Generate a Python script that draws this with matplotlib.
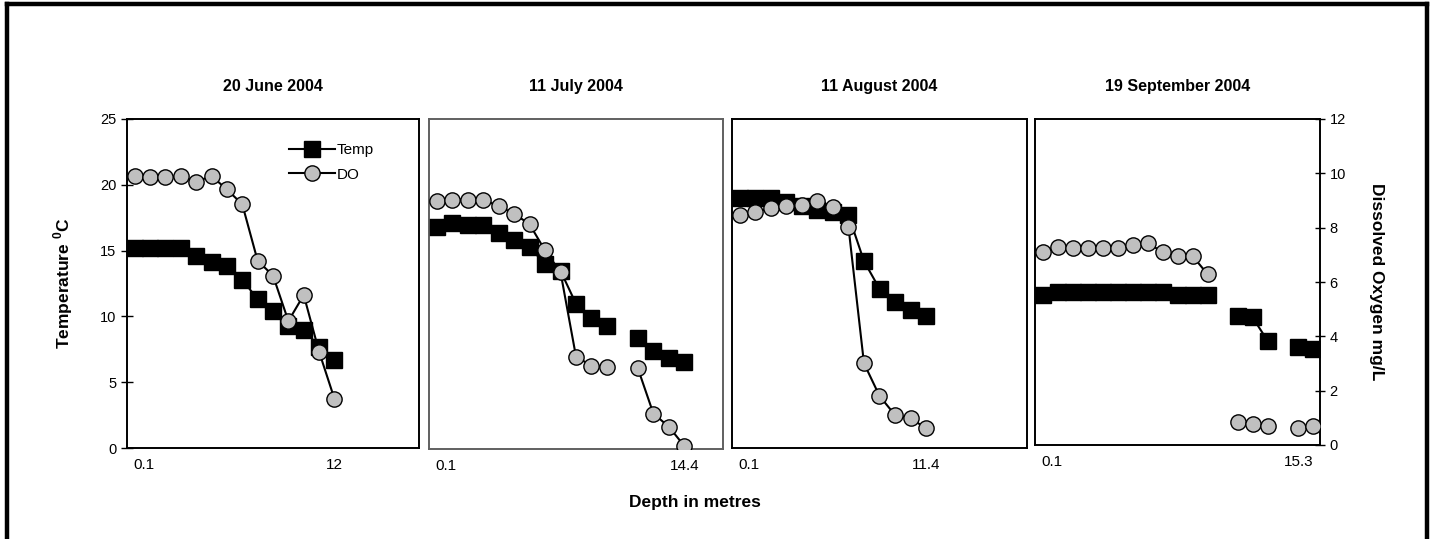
import numpy as np
import matplotlib
matplotlib.use("Agg")
import matplotlib.pyplot as plt
from matplotlib.lines import Line2D

plt.rcParams['font.family'] = ['Liberation Sans', 'DejaVu Sans']
plt.rcParams['mathtext.fontset'] = 'custom'
plt.rcParams['mathtext.bf'] = 'Liberation Sans:bold'
plt.rcParams['mathtext.rm'] = 'Liberation Sans'

nan = np.nan

titles = ["20 June 2004", "11 July 2004", "11 August 2004", "19 September 2004"]
depth_first = ["0.1", "0.1", "0.1", "0.1"]
depth_last = ["12", "14.4", "11.4", "15.3"]

temp_june = [15.2, 15.2, 15.2, 15.2, 14.6, 14.1, 13.8, 12.8, 11.3, 10.4, 9.3, 9.0, 7.7, 6.7]
do_june = [9.92, 9.87, 9.87, 9.92, 9.71, 9.92, 9.43, 8.89, 6.83, 6.29, 4.63, 5.58, 3.51, 1.79]

temp_july = [16.8, 17.1, 17.0, 17.0, 16.4, 15.8, 15.3, 14.0, 13.5, 11.0, 9.9, 9.3, nan, 8.4, 7.4, 6.9, 6.6]
do_july = [9.02, 9.07, 9.07, 9.07, 8.83, 8.56, 8.17, 7.22, 6.43, 3.36, 3.03, 2.97, nan, 2.93, 1.29, 0.81, 0.11]

temp_aug = [19.0, 19.0, 19.0, 18.7, 18.4, 18.1, 17.9, 17.7, 14.2, 12.1, 11.1, 10.5, 10.0]
do_aug = [8.50, 8.62, 8.74, 8.83, 8.86, 9.02, 8.80, 8.07, 3.09, 1.90, 1.20, 1.08, 0.72]

temp_sep = [11.5, 11.7, 11.7, 11.7, 11.7, 11.7, 11.7, 11.7, 11.7, 11.5, 11.5, 11.5, nan, 9.9, 9.8, 8.0, nan, 7.5, 7.4]
do_sep = [7.12, 7.30, 7.26, 7.26, 7.26, 7.26, 7.36, 7.42, 7.12, 6.96, 6.96, 6.29, nan, 0.86, 0.77, 0.71, nan, 0.61, 0.71]

temps = [temp_june, temp_july, temp_aug, temp_sep]
dos = [do_june, do_july, do_aug, do_sep]

W, H = 1431, 539
fig = plt.figure(figsize=(W / 100, H / 100), dpi=100)

# panel boxes in pixels: left, top, right, bottom
boxes = [(127, 119, 419, 448), (429, 119, 723, 449), (732, 119, 1027, 448), (1035, 119, 1320, 445)]
last_label_pos = [None, None, None, 17.1]
n_cat = 19

for i, (l, t, r, b) in enumerate(boxes):
    ax = fig.add_axes([l / W, (H - b) / H, (r - l) / W, (b - t) / H])
    ax2 = ax.twinx()
    x_t = np.arange(len(temps[i]))
    x_d = np.arange(len(dos[i]))
    lt, = ax.plot(x_t, temps[i], color='black', lw=1.5, marker='s', ms=11.5,
                  mfc='black', mec='black', zorder=3, label='Temp')
    ld, = ax2.plot(x_d, dos[i], color='black', lw=1.5, marker='o', ms=11,
                   mfc='#c0c0c0', mec='black', mew=1.0, zorder=4, label='DO')
    ax.set_xlim(-0.5, n_cat - 0.5)
    ax.set_ylim(0, 25)
    ax2.set_ylim(0, 12)
    last_pos = last_label_pos[i] if last_label_pos[i] is not None else len(temps[i]) - 1
    ax.set_xticks([0.6, last_pos])
    ax.set_xticklabels([depth_first[i], depth_last[i]], fontsize=11)
    ax.tick_params(axis='x', length=0, pad=7)
    spine_col = '#606060' if i == 1 else 'black'
    for a in (ax, ax2):
        for s in a.spines.values():
            s.set_color(spine_col)
            s.set_linewidth(1.2)
    if i == 0:
        ax.set_yticks(np.arange(0, 26, 5))
        ax.tick_params(axis='y', direction='inout', length=8, labelsize=10.5, width=1)
        ax.set_ylabel(r'Temperature $^{\mathbf{0}}$C', fontsize=12.5, fontweight='bold', labelpad=18)
        ax2.legend(handles=[lt, ld], loc='upper left', bbox_to_anchor=(0.53, 0.95),
                   frameon=False, fontsize=11, handlelength=3.0, handletextpad=0.1,
                   labelspacing=0.7, borderpad=0)
    else:
        ax.set_yticks([])
    if i == 3:
        ax2.set_yticks(np.arange(0, 13, 2))
        ax2.tick_params(axis='y', direction='inout', length=7, labelsize=10.5, width=1)
        ax2.set_ylabel('Dissolved Oxygen mg/L', fontsize=12.5, fontweight='bold',
                       rotation=270, labelpad=27)
    else:
        ax2.set_yticks([])
    ax.set_title(titles[i], fontsize=11.5, fontweight='bold', pad=20)

fig.text(695 / W, 1 - 502 / H, 'Depth in metres', ha='center', va='center',
         fontsize=12.5, fontweight='bold')

# outer frame (left, top, right)
fig.add_artist(Line2D([7 / W, 7 / W], [0, 1 - 4 / H], transform=fig.transFigure, color='black', lw=3.2))
fig.add_artist(Line2D([7 / W, 1427 / W], [1 - 4 / H, 1 - 4 / H], transform=fig.transFigure, color='black', lw=3.2))
fig.add_artist(Line2D([1427 / W, 1427 / W], [0, 1 - 4 / H], transform=fig.transFigure, color='black', lw=3.2))

fig.savefig('out.png', dpi=100)
